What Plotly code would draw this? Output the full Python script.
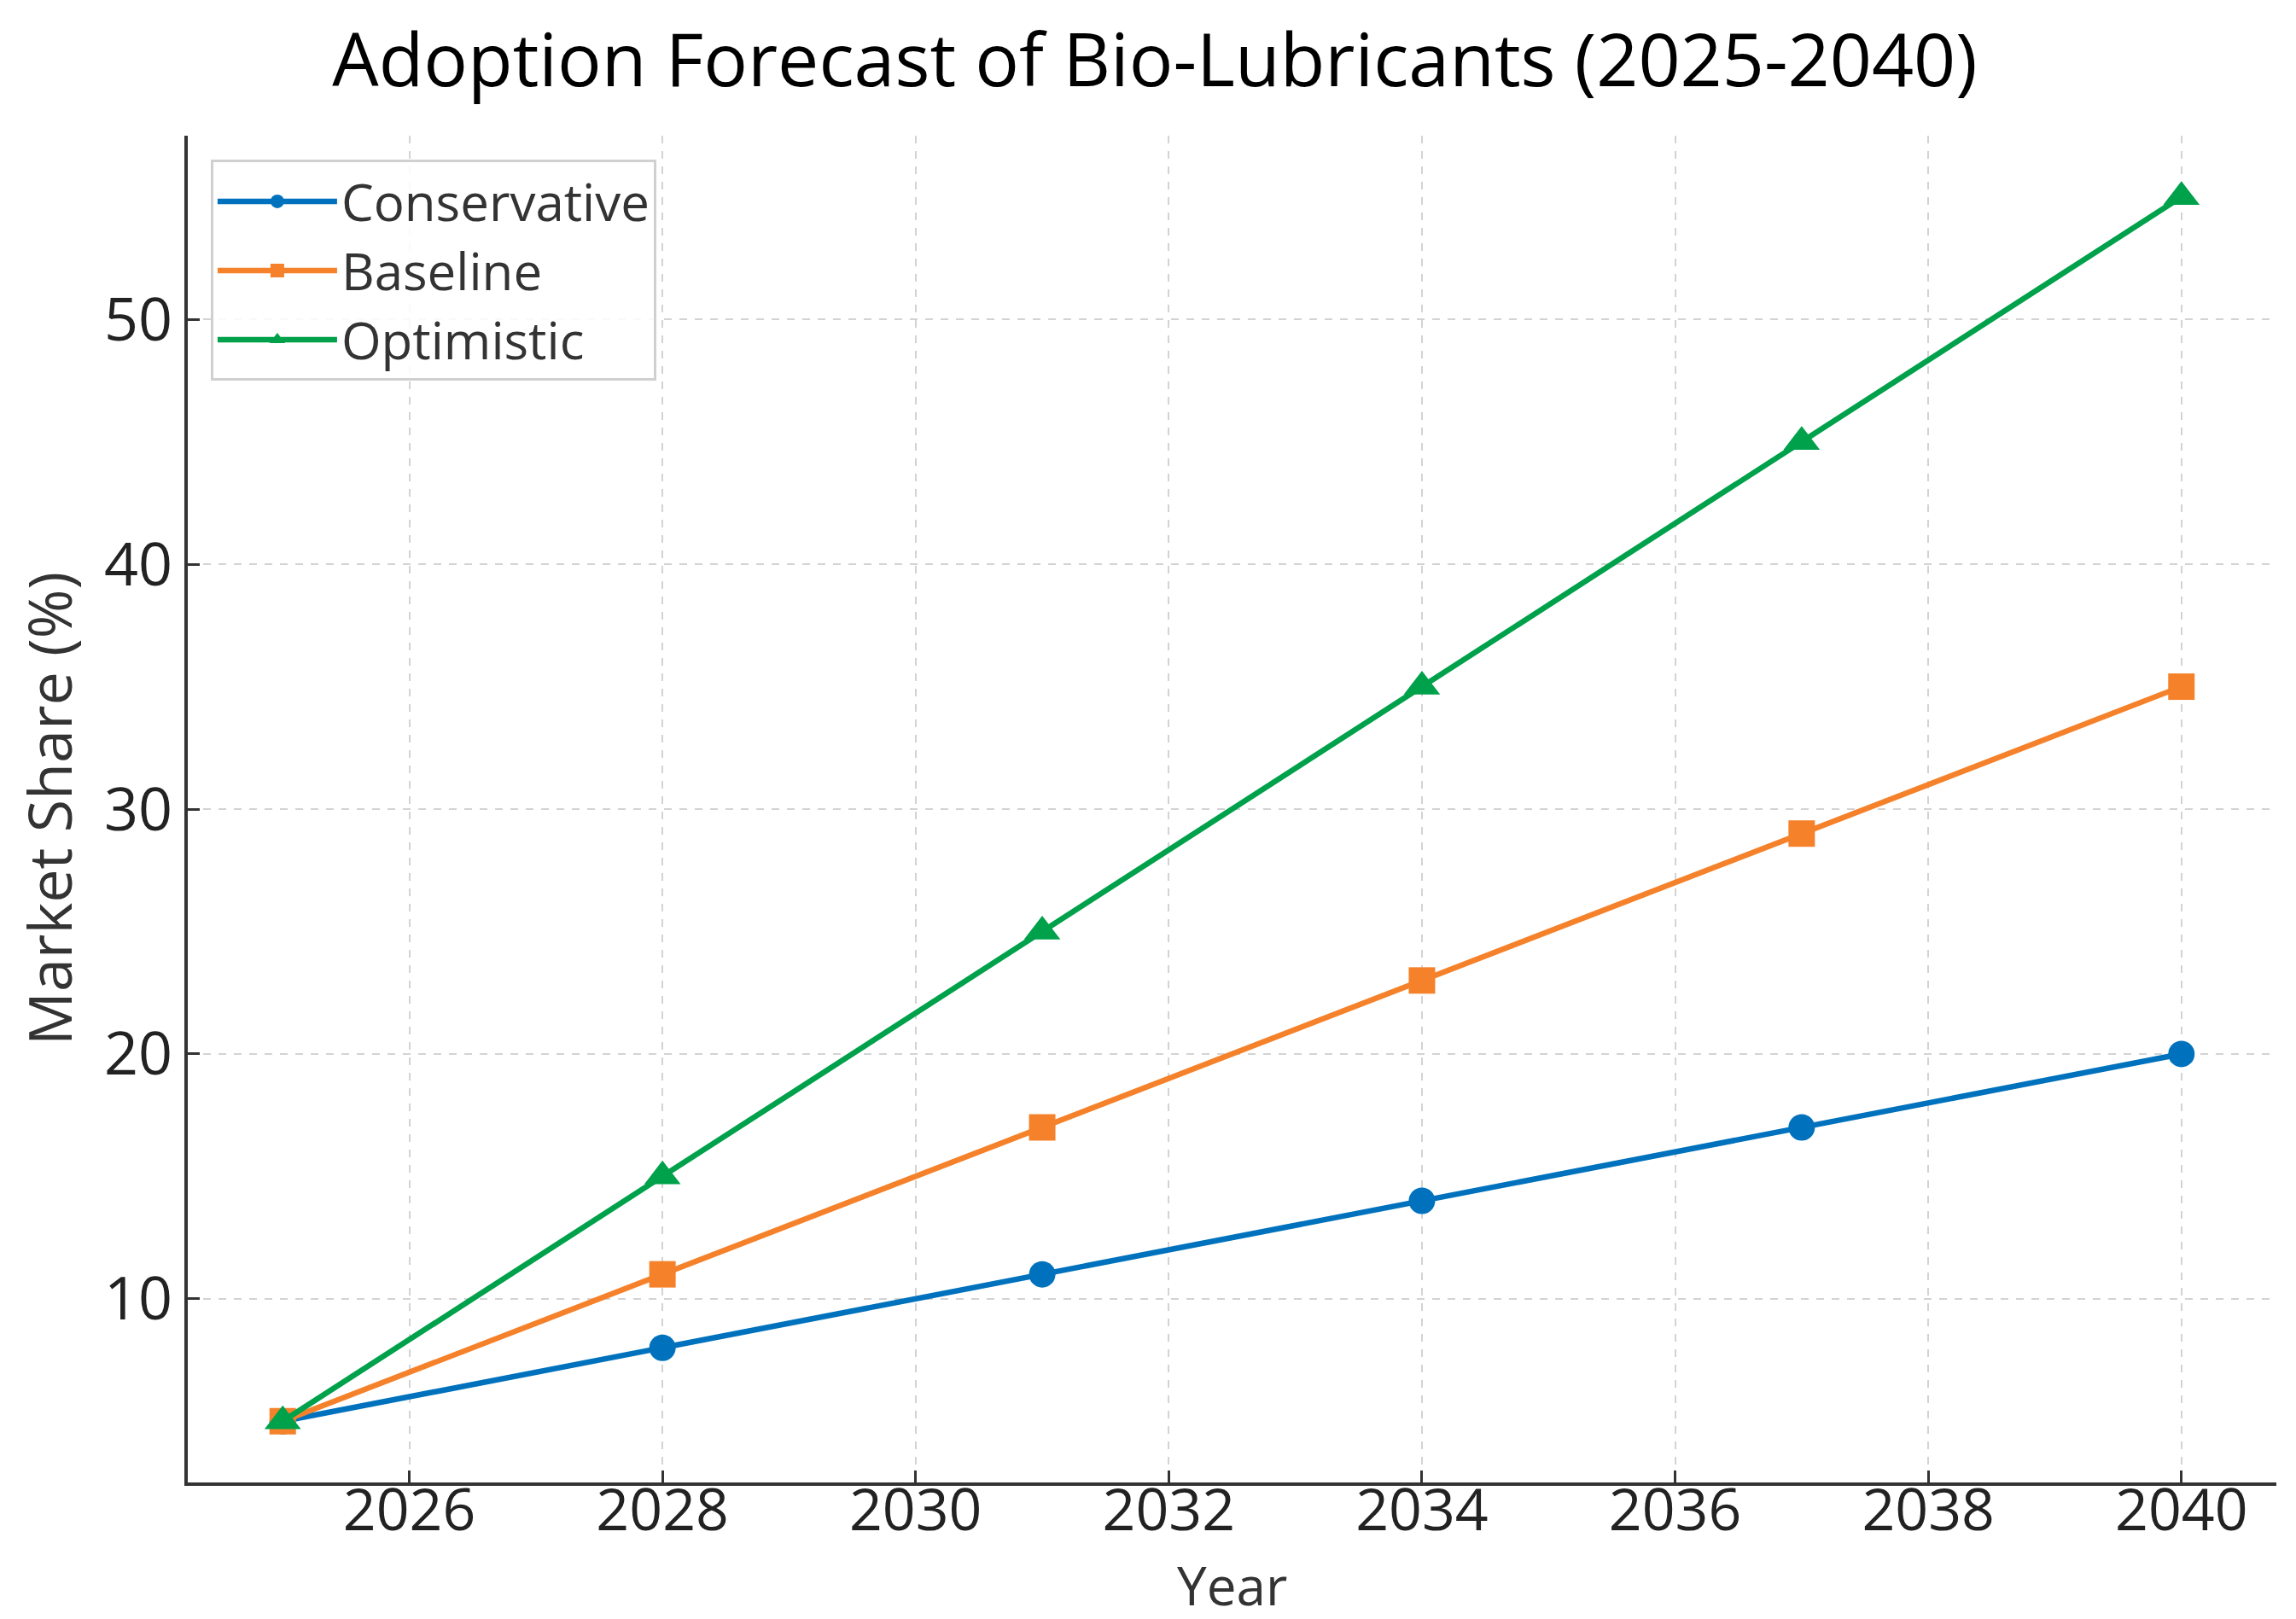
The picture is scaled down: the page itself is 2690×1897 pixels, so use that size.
import plotly.graph_objects as go

years = [2025, 2028, 2031, 2034, 2037, 2040]
conservative = [5, 8, 11, 14, 17, 20]
baseline = [5, 11, 17, 23, 29, 35]
optimistic = [5, 15, 25, 35, 45, 55]

series_names = ["Conservative", "Baseline", "Optimistic"]
series_colors = ["#0072BD", "#F5822A", "#00A14B"]
series_symbols = ["circle", "square", "triangle-up"]
series_values = [conservative, baseline, optimistic]

x_ticks = [2026, 2028, 2030, 2032, 2034, 2036, 2038, 2040]
y_ticks = [10, 20, 30, 40, 50]

title_text = "Adoption Forecast of Bio-Lubricants (2025-2040)"
x_title = "Year"
y_title = "Market Share (%)"

FONT = "Open Sans, Noto Sans, sans-serif"

fig = go.Figure()
for name, color, sym, vals in zip(series_names, series_colors, series_symbols, series_values):
    fig.add_trace(go.Scatter(
        x=years, y=vals, name=name, mode="lines+markers",
        line=dict(color=color, width=6.5),
        marker=dict(symbol=sym, size=37 if sym == "triangle-up" else 31, color=color),
    ))

W, H = 2690, 1897
L, R, T, B = 212, 31, 151, 168
PW, PH = W - L - R, H - T - B

fig.update_layout(
    width=W, height=H,
    paper_bgcolor="white", plot_bgcolor="white",
    margin=dict(l=L, r=R, t=T, b=B, autoexpand=False),
    font=dict(family=FONT, color="#222222", size=66),
    title=dict(text=title_text, x=0.5, xanchor="center", y=1 - 63 / H, yanchor="middle",
               font=dict(family=FONT, size=86, color="#000000")),
    legend=dict(
        x=0.011, y=0.982, xanchor="left", yanchor="top",
        bgcolor="rgba(255,255,255,0.85)", bordercolor="#D0D0D0", borderwidth=3,
        font=dict(family=FONT, size=60, color="#333333"),
        itemwidth=140, tracegroupgap=0,
    ),
    showlegend=True,
    annotations=[
        dict(text=x_title, xref="paper", yref="paper", x=0.5, y=1 - (1893 - T) / PH,
             xanchor="center", yanchor="bottom", showarrow=False,
             font=dict(family=FONT, size=62, color="#333333")),
        dict(text=y_title, xref="paper", yref="paper", x=(49 - L) / PW, y=0.5,
             xanchor="center", yanchor="middle", showarrow=False, textangle=-90,
             font=dict(family=FONT, size=70, color="#333333")),
    ],
)
fig.update_xaxes(
    range=[2024.25, 2040.75], tickvals=x_ticks, ticktext=[str(t) for t in x_ticks],
    showline=True, linecolor="#333333", linewidth=4, mirror=False,
    ticks="inside", ticklen=14, tickwidth=3, tickcolor="#333333",
    showgrid=True, gridcolor="#D3D3D3", gridwidth=2, griddash="dash",
    zeroline=False, tickfont=dict(size=68, color="#222222"),
    ticklabelstandoff=-30,
)
fig.update_yaxes(
    range=[2.5, 57.5], tickvals=y_ticks, ticktext=[str(t) for t in y_ticks],
    showline=True, linecolor="#333333", linewidth=4, mirror=False,
    ticks="inside", ticklen=14, tickwidth=3, tickcolor="#333333",
    showgrid=True, gridcolor="#D3D3D3", gridwidth=2, griddash="dash",
    zeroline=False, tickfont=dict(size=70, color="#222222"),
)

fig.write_html("out.html")
